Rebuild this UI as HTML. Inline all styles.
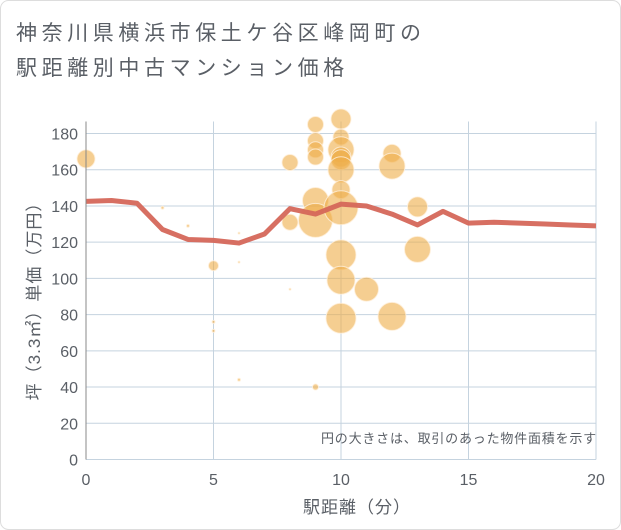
<!DOCTYPE html>
<html><head><meta charset="utf-8"><style>
body{margin:0;background:#fff;}
svg{display:block;font-family:"Liberation Sans","Noto Sans CJK JP",sans-serif;}
</style></head><body>
<svg width="621" height="530" viewBox="0 0 621 530">
<rect x="0.5" y="0.5" width="620" height="529" rx="8" fill="#fff" stroke="#ddd"/>
<text x="16" y="40" font-size="21" letter-spacing="4.6" fill="#5a5f66">神奈川県横浜市保土ケ谷区峰岡町の</text>
<text x="16" y="75" font-size="21" letter-spacing="4.6" fill="#5a5f66">駅距離別中古マンション価格</text>
<g id="grid"></g>
<g id="bubbles"></g>
<g id="line"></g>
<g id="axes"></g>
<text x="597" y="443" font-size="13" letter-spacing="0.8" fill="#5a5f66" text-anchor="end">円の大きさは、取引のあった物件面積を示す</text>
<text x="357" y="513" font-size="17" letter-spacing="1" fill="#5a5f66" text-anchor="middle">駅距離（分）</text>
<text transform="translate(40,297) rotate(-90)" font-size="17" letter-spacing="1" fill="#5a5f66" text-anchor="middle">坪（3.3㎡）単価（万円）</text>
</svg>
<script>
const xTicks=[0,5,10,15,20];
const yTicks=[0,20,40,60,80,100,120,140,160,180];
const lineX=[0,1,2,3,4,5,6,7,8,9,10,11,12,13,14,15,16,17,18,19,20];
const lineY=[142.5,143,141.5,127,121.5,121,119.5,124.5,138.5,135.5,141,140,135.5,129.5,137,130.5,131,130.5,130,129.5,129];
const bubX=[0,3,4,5,5,5,6,6,6,8,9,8,8,9,9,9,9,9,9,10,10,10,10,10,10,10,10,10,10,10,11,12,12,12,13,13];
const bubY=[166,139,129,107,76,71,125,109,44,94,40,164,131,185,176,171,167,143,132,188,178,171,167,165.5,160,149,139,113,99,78,94,169,162,79,139.5,116];
const bubR=[9,1.5,1.5,5,1.5,1.5,1,1,1.5,1,3,8,8,8,8,8,8,13,17,10,8,13,10,10,13,9,17,15,14,15,12,9,13,14,10,13];
const NS="http://www.w3.org/2000/svg";
const X0=86,X1=596,Y0=459.5,Y1=133.5;
function sx(v){return X0+(v-0)/20*(X1-X0);}
function sy(v){return Y0-(v/180)*(Y0-Y1);}
function mk(t,a,p){const e=document.createElementNS(NS,t);for(const k in a)e.setAttribute(k,a[k]);p.appendChild(e);return e;}
const grid=document.getElementById('grid'),axes=document.getElementById('axes');
yTicks.forEach(v=>{const l=mk('line',{x1:X0,x2:X1,y1:sy(v),y2:sy(v),stroke:'#c5d3df','stroke-width':1},grid);


const t=mk('text',{x:X0-8,y:sy(v)+6,'font-size':16,fill:'#5a5f66','text-anchor':'end'},axes);t.textContent=v;

});
xTicks.forEach(v=>{const l=mk('line',{x1:sx(v),x2:sx(v),y1:Y1-12,y2:Y0,stroke:'#c5d3df','stroke-width':1},grid);


const t=mk('text',{x:sx(v),y:485,'font-size':16,fill:'#5a5f66','text-anchor':'middle'},axes);t.textContent=v;

});
const ax=mk('line',{x1:X0,x2:X0,y1:Y1-12,y2:Y0,stroke:'#888','stroke-width':1},axes);


const bg=document.getElementById('bubbles');
bubX.forEach((x,i)=>{const c=mk('circle',{cx:sx(x),cy:sy(bubY[i]),r:bubR[i],fill:'rgba(239,174,72,0.6)',stroke:'rgba(255,240,220,0.8)','stroke-width':1},bg);

});
const lg=document.getElementById('line');
const p=mk('polyline',{points:lineX.map((x,i)=>sx(x)+','+sy(lineY[i])).join(' '),fill:'none',stroke:'#d5675a','stroke-width':5,'stroke-linejoin':'round',opacity:0.95},lg);


</script>
</body></html>
